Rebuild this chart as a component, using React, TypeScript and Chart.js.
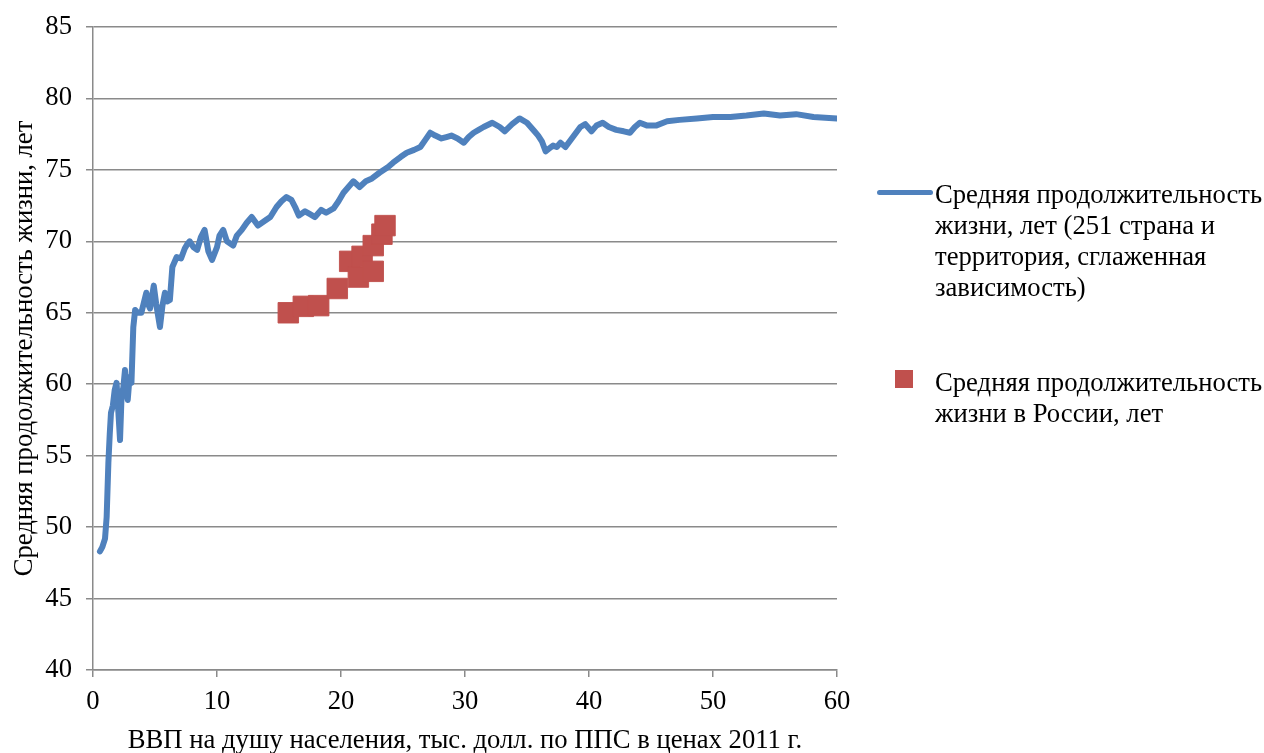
import React, { useEffect, useRef } from "react";
import { Chart, registerables } from "chart.js";

Chart.register(...registerables);

const lifeX = [
  0.56, 0.75, 0.97, 1.1, 1.24, 1.35, 1.45, 1.6, 1.75, 1.9, 2.05, 2.18, 2.3, 2.45, 2.58, 2.7, 2.8, 2.95, 3.1, 3.25,
  3.4, 3.6, 3.9, 4.1, 4.3, 4.45, 4.6, 4.9, 5.1, 5.4, 5.6, 5.8, 6.0, 6.2, 6.4, 6.75, 7.1, 7.4, 7.6, 7.8,
  8.1, 8.4, 8.7, 9.0, 9.3, 9.6, 10.0, 10.2, 10.5, 10.8, 11.3, 11.6, 12.0, 12.4, 12.8, 13.3, 13.8, 14.3, 14.8, 15.2,
  15.6, 16.0, 16.3, 16.6, 17.1, 17.5, 17.9, 18.4, 18.8, 19.4, 19.8, 20.2, 20.6, 21.0, 21.5, 22.0, 22.5, 23.1, 23.8, 24.2,
  24.8, 25.3, 25.9, 26.4, 26.8, 27.2, 27.6, 28.1, 28.5, 28.9, 29.4, 29.9, 30.3, 30.7, 31.1, 31.5, 32.2, 32.8, 33.2, 33.8,
  34.4, 35.0, 35.6, 35.9, 36.2, 36.5, 36.8, 37.1, 37.4, 37.7, 38.1, 38.7, 39.3, 39.7, 40.2, 40.6, 41.1, 41.6, 42.2, 42.8,
  43.3, 43.7, 44.1, 44.7, 45.4, 46.3, 47.3, 48.7, 50.0, 51.4, 52.7, 54.1, 55.4, 56.7, 58.1, 60.0,
];
const lifeY = [
  48.3, 48.6, 49.2, 50.7, 54.5, 56.5, 58.0, 58.5, 59.6, 60.1, 58.0, 56.1, 59.1, 59.8, 61.0, 59.5, 58.9, 60.5, 60.1, 64.0,
  65.2, 65.0, 65.0, 65.7, 66.4, 65.6, 65.3, 66.9, 65.6, 64.0, 65.5, 66.4, 65.8, 65.9, 68.2, 68.9, 68.8, 69.5, 69.8, 70.0,
  69.6, 69.4, 70.3, 70.8, 69.3, 68.7, 69.6, 70.4, 70.8, 70.0, 69.7, 70.4, 70.8, 71.3, 71.7, 71.1, 71.4, 71.7, 72.4, 72.8,
  73.1, 72.9, 72.4, 71.8, 72.1, 71.9, 71.7, 72.2, 72.0, 72.3, 72.8, 73.4, 73.8, 74.2, 73.8, 74.2, 74.4, 74.8, 75.2, 75.5,
  75.9, 76.2, 76.4, 76.6, 77.1, 77.6, 77.4, 77.2, 77.3, 77.4, 77.2, 76.9, 77.3, 77.6, 77.8, 78.0, 78.3, 78.0, 77.7, 78.2,
  78.6, 78.3, 77.7, 77.4, 77.0, 76.3, 76.5, 76.7, 76.6, 76.9, 76.6, 77.3, 78.0, 78.2, 77.7, 78.1, 78.3, 78.0, 77.8, 77.7,
  77.6, 78.0, 78.3, 78.1, 78.1, 78.4, 78.5, 78.6, 78.7, 78.7, 78.8, 78.95, 78.8, 78.9, 78.7, 78.6,
];

const russiaX = [15.75, 16.96, 18.2, 19.7, 20.7, 21.4, 21.7, 22.6, 22.6, 23.3, 23.55];
const russiaY = [65.0, 65.45, 65.5, 66.7, 68.6, 67.5, 68.95, 67.9, 69.7, 70.5, 71.1];

const xTicks = [0, 10, 20, 30, 40, 50, 60];
const yTicks = [40, 45, 50, 55, 60, 65, 70, 75, 80, 85];

const legendLine = ["Средняя продолжительность", "жизни, лет (251 страна и", "территория, сглаженная", "зависимость)"];
const legendRussia = ["Средняя продолжительность", "жизни в России, лет"];
const xTitle = "ВВП на душу населения, тыс. долл. по ППС в ценах 2011 г.";
const yTitle = "Средняя продолжительность жизни, лет";

const FONT = "'Liberation Serif', 'Times New Roman', serif";
const FS = 26.67;
const GRID = "#8a8a8a";
const BLUE = "#4F81BD";
const RED = "#C0504D";

export default function App() {
  const ref = useRef<HTMLCanvasElement>(null);

  useEffect(() => {
    if (!ref.current) return;
    const chart = new Chart(ref.current, {
      type: "scatter",
      data: {
        datasets: [
          {
            type: "line",
            label: legendLine.join(" "),
            data: lifeX.map((x, i) => ({ x, y: lifeY[i] })),
            borderColor: BLUE,
            backgroundColor: BLUE,
            borderWidth: 6,
            pointRadius: 0,
            tension: 0,
            borderJoinStyle: "round",
            borderCapStyle: "round",
            showLine: true,
          } as any,
          {
            type: "scatter",
            label: legendRussia.join(" "),
            data: russiaX.map((x, i) => ({ x, y: russiaY[i] })),
            pointStyle: "rect",
            pointRadius: 14.5,
            backgroundColor: RED,
            borderColor: "rgba(192,80,77,0.9)",
            borderWidth: 1,
          },
        ],
      },
      options: {
        animation: false,
        responsive: false,
        maintainAspectRatio: false,
        layout: { padding: { left: 0, top: 27, right: 427, bottom: 0 } },
        plugins: { legend: { display: false }, tooltip: { enabled: false } },
        scales: {
          x: {
            type: "linear",
            min: 0,
            max: 60,
            afterBuildTicks: (s: any) => {
              s.ticks = xTicks.map((v) => ({ value: v }));
            },
            afterFit: (s: any) => {
              s.height = 83;
            },
            grid: { drawOnChartArea: false, drawTicks: true, tickLength: 7, color: GRID, lineWidth: 1.5 },
            border: { color: GRID, width: 1.5 },
            ticks: { color: "#000", font: { family: FONT, size: FS }, padding: 9, maxRotation: 0 },
            title: {
              display: true,
              text: xTitle,
              color: "#000",
              font: { family: FONT, size: FS },
              padding: { top: 0, bottom: -4 },
            },
          },
          y: {
            type: "linear",
            min: 40,
            max: 85,
            afterBuildTicks: (s: any) => {
              s.ticks = yTicks.map((v) => ({ value: v }));
            },
            afterFit: (s: any) => {
              s.width = 93;
              s.paddingTop = 0;
              s.paddingBottom = 0;
            },
            grid: { drawTicks: true, tickLength: 7, color: GRID, lineWidth: 1.5 },
            border: { color: GRID, width: 1.5 },
            ticks: { color: "#000", font: { family: FONT, size: FS }, padding: 14 },
            title: {
              display: true,
              text: yTitle,
              color: "#000",
              font: { family: FONT, size: FS },
              padding: { top: 9, bottom: 0 },
            },
          },
        },
      },
    });
    return () => chart.destroy();
  }, []);

  const textStyle: React.CSSProperties = {
    position: "absolute",
    fontFamily: FONT,
    fontSize: FS,
    lineHeight: "31px",
    color: "#000",
    whiteSpace: "nowrap",
  };

  return (
    <div style={{ position: "fixed", left: 0, top: 0, width: 1264, height: 753, background: "#fff" }}>
      <canvas ref={ref} width={1264} height={753} style={{ position: "absolute", left: 0, top: 0 }} />
      <div
        style={{
          position: "absolute",
          left: 877,
          top: 190,
          width: 56,
          height: 5,
          borderRadius: 3,
          background: BLUE,
        }}
      />
      <div style={{ ...textStyle, left: 935, top: 179 }}>
        {legendLine.map((l, i) => (
          <div key={i}>{l}</div>
        ))}
      </div>
      <div style={{ position: "absolute", left: 895, top: 370, width: 18, height: 18, background: RED }} />
      <div style={{ ...textStyle, left: 935, top: 367 }}>
        {legendRussia.map((l, i) => (
          <div key={i}>{l}</div>
        ))}
      </div>
    </div>
  );
}
